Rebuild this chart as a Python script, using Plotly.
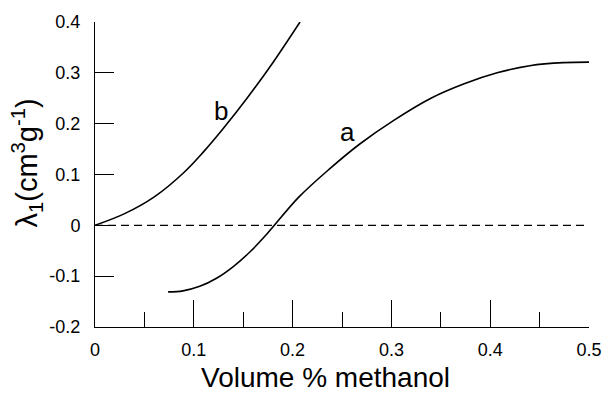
import plotly.graph_objects as go

# Curve a
a_x = [0.074, 0.089, 0.106, 0.123, 0.140, 0.157, 0.174, 0.206, 0.238, 0.268, 0.302, 0.340, 0.373, 0.407, 0.440, 0.474, 0.513]
a_y = [-0.131, -0.129, -0.120, -0.104, -0.081, -0.052, -0.017, 0.055, 0.112, 0.160, 0.206, 0.250, 0.278, 0.300, 0.314, 0.320, 0.321]
# Curve b
b_x = [0.0, 0.030, 0.060, 0.090, 0.110, 0.130, 0.155, 0.180, 0.2075]
b_y = [0.0, 0.023, 0.056, 0.104, 0.145, 0.191, 0.253, 0.320, 0.400]
# zero reference line
zero_x = [0.0, 0.51]
zero_y = [0.0, 0.0]

x_ticks = [0, 0.1, 0.2, 0.3, 0.4, 0.5]
x_ticktext = ["0", "0.1", "0.2", "0.3", "0.4", "0.5"]
y_ticks = [-0.2, -0.1, 0, 0.1, 0.2, 0.3, 0.4]
y_ticktext = ["-0.2", "-0.1", "0", "0.1", "0.2", "0.3", "0.4"]

labels = [("a", 0.256, 0.184), ("b", 0.128, 0.225)]

FONT = "Arial, Liberation Sans, sans-serif"

fig = go.Figure()
fig.add_trace(go.Scatter(x=zero_x, y=zero_y, mode="lines",
                         line=dict(color="black", width=1.2, dash="8px,5px"), hoverinfo="skip"))
fig.add_trace(go.Scatter(x=a_x, y=a_y, mode="lines",
                         line=dict(color="black", width=1.6, shape="spline", smoothing=1.0)))
fig.add_trace(go.Scatter(x=b_x, y=b_y, mode="lines",
                         line=dict(color="black", width=1.6, shape="spline", smoothing=1.0)))

for t, lx, ly in labels:
    fig.add_annotation(x=lx, y=ly, text=t, showarrow=False,
                       xanchor="center", yanchor="middle",
                       font=dict(family=FONT, size=26, color="black"))

fig.add_annotation(xref="paper", yref="paper", x=0.4656, y=-0.166,
                   xanchor="center", yanchor="middle",
                   text="Volume % methanol", showarrow=False,
                   font=dict(family=FONT, size=28, color="black"))
fig.add_annotation(xref="paper", yref="paper", x=-0.137, y=0.537,
                   xanchor="center", yanchor="middle",
                   text="λ<sub>1</sub>(cm<sup>3</sup>g<sup>-1</sup>)", showarrow=False,
                   textangle=-90,
                   font=dict(family=FONT, size=29, color="black"))

fig.update_layout(
    width=616, height=393,
    margin=dict(l=95, r=27, t=20, b=66),
    paper_bgcolor="white", plot_bgcolor="white",
    showlegend=False,
    font=dict(family=FONT, color="black"),
    xaxis=dict(range=[0, 0.5], showgrid=False, zeroline=False,
               showline=True, linecolor="black", linewidth=1,
               ticks="inside", ticklen=27, tickwidth=1, tickcolor="black",
               tickvals=x_ticks, ticktext=x_ticktext,
               tickfont=dict(family=FONT, size=18, color="black"),
               ticklabelstandoff=6,
               minor=dict(ticks="inside", ticklen=15, tickwidth=1, tickcolor="black", dtick=0.05,
                          showgrid=False)),
    yaxis=dict(range=[-0.2, 0.4], showgrid=False, zeroline=False,
               showline=True, linecolor="black", linewidth=1,
               ticks="inside", ticklen=19, tickwidth=1, tickcolor="black",
               tickvals=y_ticks, ticktext=y_ticktext,
               tickfont=dict(family=FONT, size=18, color="black"),
               ticklabelstandoff=10),
)

fig.write_html("out.html")
